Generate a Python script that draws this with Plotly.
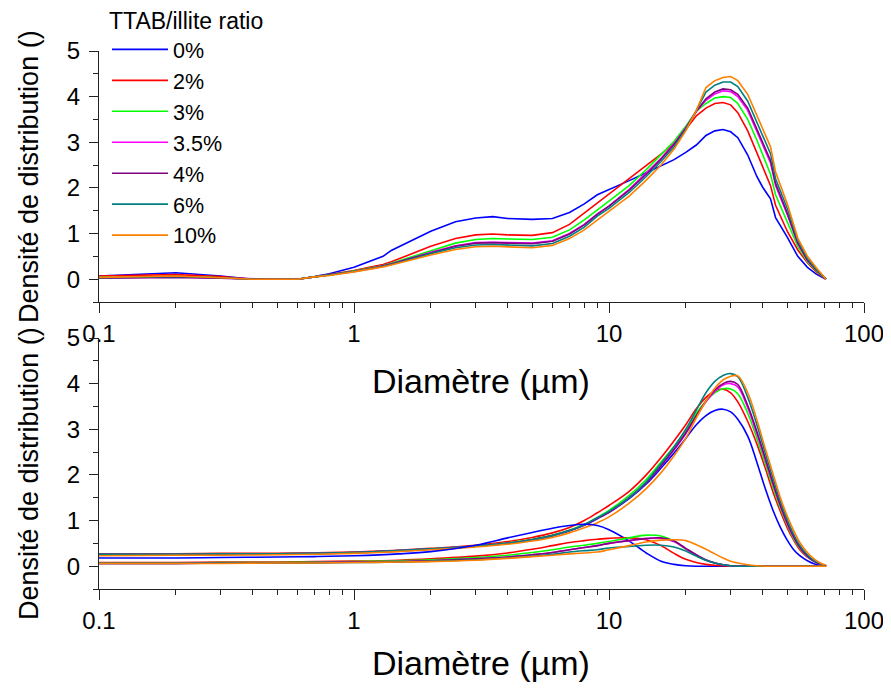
import plotly.graph_objects as go

# ---------------- data ----------------
series_names = ["0%", "2%", "3%", "3.5%", "4%", "6%", "10%"]
series_colors = ["#0000FF", "#FF0000", "#00FF00", "#FF00FF", "#800080", "#008080", "#FF8000"]

top_x = [0.1, 0.15, 0.2, 0.3, 0.4, 0.5, 0.6, 0.7, 0.8, 1.0,
         1.2, 1.3, 1.4, 1.7, 2.0, 2.5, 3.0, 3.5, 4.0, 5.0,
         6, 7, 8, 9, 10, 12, 14, 16, 18, 20,
         22, 24, 26, 28, 30, 32, 35, 38, 40, 43,
         45, 50, 55, 60, 65, 71]

top_0 = [0.07, 0.11, 0.14, 0.07, 0.0, 0.0, 0.0, 0.06, 0.12, 0.26,
         0.42, 0.5, 0.63, 0.86, 1.05, 1.26, 1.34, 1.37, 1.33, 1.31,
         1.33, 1.46, 1.65, 1.85, 1.97, 2.16, 2.33, 2.48, 2.62, 2.78,
         2.94, 3.15, 3.25, 3.28, 3.23, 3.1, 2.72, 2.25, 2.02, 1.76,
         1.35, 0.92, 0.5, 0.26, 0.11, 0.0]
top_2 = [0.07, 0.09, 0.1, 0.06, 0.0, 0.0, 0.0, 0.05, 0.1, 0.19,
         0.28, 0.32, 0.38, 0.56, 0.72, 0.89, 0.97, 0.99, 0.97, 0.96,
         1.02, 1.2, 1.45, 1.66, 1.85, 2.2, 2.5, 2.74, 2.98, 3.28,
         3.58, 3.75, 3.85, 3.87, 3.82, 3.65, 3.25, 2.78, 2.47, 2.05,
         1.62, 1.05, 0.64, 0.36, 0.16, 0.0]
top_3 = [0.04, 0.05, 0.06, 0.03, 0.0, 0.0, 0.0, 0.05, 0.09, 0.18,
         0.26, 0.3, 0.35, 0.5, 0.63, 0.79, 0.87, 0.89, 0.88, 0.87,
         0.92, 1.08, 1.3, 1.52, 1.7, 2.05, 2.4, 2.72, 3.02, 3.35,
         3.68, 3.85, 3.97, 4.0, 3.98, 3.85, 3.5, 3.05, 2.75, 2.3,
         1.85, 1.25, 0.72, 0.38, 0.18, 0.0]
top_35 = [0.03, 0.04, 0.05, 0.02, 0.0, 0.0, 0.0, 0.05, 0.09, 0.17,
          0.25, 0.29, 0.33, 0.47, 0.59, 0.73, 0.8, 0.81, 0.8, 0.79,
          0.84, 1.0, 1.2, 1.43, 1.6, 1.97, 2.33, 2.65, 2.97, 3.32,
          3.68, 3.92, 4.06, 4.13, 4.11, 4.0, 3.7, 3.25, 2.95, 2.55,
          2.05, 1.42, 0.78, 0.41, 0.2, 0.0]
top_4 = [0.02, 0.03, 0.04, 0.02, 0.0, 0.0, 0.0, 0.05, 0.09, 0.17,
         0.25, 0.29, 0.33, 0.47, 0.58, 0.72, 0.79, 0.8, 0.79, 0.78,
         0.83, 0.99, 1.19, 1.42, 1.6, 1.95, 2.3, 2.63, 2.95, 3.3,
         3.68, 3.95, 4.1, 4.17, 4.15, 4.05, 3.75, 3.3, 3.0, 2.6,
         2.1, 1.45, 0.8, 0.42, 0.2, 0.0]
top_6 = [0.03, 0.05, 0.06, 0.03, 0.0, 0.0, 0.0, 0.05, 0.09, 0.17,
         0.24, 0.28, 0.32, 0.45, 0.56, 0.69, 0.75, 0.76, 0.75, 0.73,
         0.78, 0.94, 1.14, 1.38, 1.55, 1.9, 2.25, 2.58, 2.9, 3.28,
         3.7, 4.1, 4.25, 4.32, 4.32, 4.22, 3.9, 3.45, 3.15, 2.75,
         2.2, 1.55, 0.85, 0.45, 0.22, 0.0]
top_10 = [0.04, 0.06, 0.07, 0.03, 0.0, 0.0, 0.0, 0.05, 0.08, 0.16,
          0.23, 0.27, 0.31, 0.43, 0.53, 0.65, 0.71, 0.72, 0.71, 0.69,
          0.74, 0.89, 1.08, 1.3, 1.48, 1.82, 2.17, 2.5, 2.85, 3.25,
          3.7, 4.2, 4.35, 4.42, 4.44, 4.35, 4.05, 3.6, 3.3, 2.9,
          2.35, 1.65, 0.9, 0.5, 0.25, 0.0]

bot_x = [0.1, 0.2, 0.3, 0.5, 0.7, 1, 1.5, 2, 3, 4,
         5, 6, 7, 8, 9, 10, 12, 14, 16, 18,
         20, 22, 24, 26, 28, 30, 32, 35, 38, 41,
         44, 47, 50, 53, 56, 60, 64, 68, 71]

# main (large) fitted components
main_0 = [0.25, 0.25, 0.26, 0.26, 0.27, 0.29, 0.33, 0.37, 0.44, 0.5,
          0.58, 0.67, 0.77, 0.9, 1.04, 1.18, 1.48, 1.8, 2.15, 2.48,
          2.8, 3.1, 3.3, 3.41, 3.44, 3.38, 3.22, 2.85, 2.28, 1.7,
          1.22, 0.85, 0.57, 0.36, 0.23, 0.12, 0.05, 0.02, 0.0]
main_2 = [0.27, 0.27, 0.28, 0.28, 0.29, 0.31, 0.35, 0.39, 0.46, 0.54,
          0.63, 0.73, 0.85, 1.0, 1.17, 1.33, 1.64, 2.0, 2.38, 2.75,
          3.1, 3.45, 3.7, 3.84, 3.88, 3.8, 3.6, 3.17, 2.68, 2.15,
          1.62, 1.2, 0.84, 0.57, 0.36, 0.2, 0.11, 0.04, 0.0]
main_3 = [0.26, 0.26, 0.27, 0.27, 0.28, 0.3, 0.34, 0.38, 0.44, 0.51,
          0.59, 0.68, 0.79, 0.92, 1.07, 1.22, 1.55, 1.9, 2.28, 2.62,
          2.95, 3.35, 3.62, 3.8, 3.89, 3.88, 3.78, 3.35, 2.8, 2.25,
          1.72, 1.27, 0.9, 0.6, 0.39, 0.21, 0.1, 0.04, 0.01]
main_35 = [0.26, 0.26, 0.27, 0.27, 0.28, 0.3, 0.34, 0.38, 0.44, 0.5,
           0.58, 0.67, 0.78, 0.9, 1.05, 1.18, 1.5, 1.83, 2.2, 2.55,
           2.9, 3.28, 3.6, 3.83, 3.97, 4.0, 3.93, 3.47, 2.9, 2.33,
           1.79, 1.32, 0.93, 0.63, 0.41, 0.22, 0.1, 0.04, 0.01]
main_4 = [0.26, 0.26, 0.27, 0.27, 0.28, 0.3, 0.34, 0.38, 0.44, 0.5,
          0.58, 0.67, 0.78, 0.9, 1.05, 1.18, 1.5, 1.83, 2.2, 2.56,
          2.92, 3.3, 3.62, 3.86, 4.0, 4.05, 3.98, 3.52, 2.95, 2.37,
          1.82, 1.34, 0.95, 0.65, 0.42, 0.22, 0.1, 0.04, 0.01]
main_6 = [0.26, 0.26, 0.27, 0.27, 0.28, 0.3, 0.34, 0.38, 0.44, 0.5,
          0.58, 0.67, 0.78, 0.91, 1.06, 1.2, 1.5, 1.85, 2.25, 2.62,
          3.0, 3.42, 3.8, 4.05, 4.18, 4.22, 4.15, 3.7, 3.1, 2.48,
          1.92, 1.42, 1.02, 0.7, 0.46, 0.25, 0.12, 0.05, 0.01]
main_10 = [0.23, 0.24, 0.24, 0.25, 0.26, 0.28, 0.32, 0.36, 0.42, 0.48,
           0.55, 0.63, 0.73, 0.84, 0.95, 1.08, 1.38, 1.7, 2.05, 2.42,
           2.8, 3.25, 3.62, 3.9, 4.08, 4.16, 4.17, 3.8, 3.21, 2.58,
           2.02, 1.5, 1.1, 0.78, 0.52, 0.3, 0.15, 0.06, 0.02]

# secondary (small) fitted components
sub_0 = [0.18, 0.18, 0.19, 0.2, 0.21, 0.23, 0.27, 0.32, 0.46, 0.62,
         0.74, 0.83, 0.89, 0.92, 0.89, 0.8, 0.55, 0.29, 0.11, 0.04,
         0.01, 0, 0, 0, 0, 0, 0, 0, 0, 0,
         0, 0, 0, 0, 0, 0, 0, 0, 0]
sub_2 = [0.08, 0.08, 0.09, 0.09, 0.1, 0.11, 0.13, 0.16, 0.22, 0.29,
         0.37, 0.45, 0.52, 0.56, 0.59, 0.61, 0.62, 0.58, 0.45, 0.28,
         0.15, 0.08, 0.04, 0.02, 0.01, 0, 0, 0, 0, 0,
         0, 0, 0, 0, 0, 0, 0, 0, 0]
sub_3 = [0.07, 0.07, 0.08, 0.08, 0.09, 0.1, 0.12, 0.14, 0.19, 0.24,
         0.3, 0.36, 0.42, 0.46, 0.5, 0.54, 0.62, 0.68, 0.66, 0.55,
         0.37, 0.23, 0.13, 0.07, 0.03, 0.01, 0, 0, 0, 0,
         0, 0, 0, 0, 0, 0, 0, 0, 0]
sub_35 = [0.06, 0.06, 0.07, 0.07, 0.08, 0.09, 0.1, 0.12, 0.16, 0.2,
          0.25, 0.3, 0.36, 0.41, 0.45, 0.5, 0.56, 0.6, 0.61, 0.54,
          0.38, 0.24, 0.13, 0.07, 0.03, 0.01, 0, 0, 0, 0,
          0, 0, 0, 0, 0, 0, 0, 0, 0]
sub_4 = [0.06, 0.06, 0.07, 0.07, 0.08, 0.09, 0.1, 0.12, 0.16, 0.2,
         0.25, 0.3, 0.36, 0.41, 0.45, 0.5, 0.56, 0.61, 0.62, 0.55,
         0.39, 0.25, 0.14, 0.07, 0.03, 0.01, 0, 0, 0, 0,
         0, 0, 0, 0, 0, 0, 0, 0, 0]
sub_6 = [0.06, 0.06, 0.07, 0.07, 0.07, 0.08, 0.09, 0.11, 0.14, 0.18,
         0.22, 0.26, 0.31, 0.34, 0.36, 0.4, 0.43, 0.46, 0.46, 0.42,
         0.33, 0.22, 0.13, 0.07, 0.03, 0.01, 0, 0, 0, 0,
         0, 0, 0, 0, 0, 0, 0, 0, 0]
sub_10 = [0.06, 0.06, 0.06, 0.07, 0.07, 0.08, 0.09, 0.1, 0.13, 0.17,
          0.21, 0.24, 0.27, 0.29, 0.31, 0.36, 0.45, 0.53, 0.57, 0.58,
          0.56, 0.47, 0.37, 0.27, 0.18, 0.11, 0.07, 0.03, 0.01, 0,
          0, 0, 0, 0, 0, 0, 0, 0, 0]

legend_title = "TTAB/illite ratio"
x_title = "Diamètre (µm)"
y_title = "Densité de distribution ()"
x_tickvals = [0.1, 1, 10, 100]
x_ticktext = ["0.1", "1", "10", "100"]

top_series = [top_0, top_2, top_3, top_35, top_4, top_6, top_10]
main_series = [main_0, main_2, main_3, main_35, main_4, main_6, main_10]
sub_series = [sub_0, sub_2, sub_3, sub_35, sub_4, sub_6, sub_10]

# ---------------- figure ----------------
FONT = "Liberation Sans, Arial, sans-serif"
OFF = 8                      # default page margin of the HTML body
W, H = 891 - OFF, 691 - OFF
ML, MR, MT, MB = 99 - OFF, 27, 51 - OFF, 102
PW = W - ML - MR
PH = H - MT - MB


def page_to_paper(px, py):
    """convert window pixel coords to paper fractions"""
    fx, fy = px - OFF, py - OFF
    return (fx - ML) / PW, (H - MB - fy) / PH


fig = go.Figure()

for name, color, ys in zip(series_names, series_colors, top_series):
    fig.add_trace(go.Scatter(x=top_x, y=ys, mode="lines", name=name,
                             line=dict(color=color, width=1.6),
                             xaxis="x", yaxis="y", legendgroup=name))

for name, color, ys in zip(series_names, series_colors, main_series):
    fig.add_trace(go.Scatter(x=bot_x, y=ys, mode="lines", name=name,
                             line=dict(color=color, width=1.6, shape="spline"),
                             xaxis="x2", yaxis="y2", showlegend=False, legendgroup=name))
for name, color, ys in zip(series_names, series_colors, sub_series):
    fig.add_trace(go.Scatter(x=bot_x, y=ys, mode="lines", name=name,
                             line=dict(color=color, width=1.6, shape="spline"),
                             xaxis="x2", yaxis="y2", showlegend=False, legendgroup=name))

minor_x = [m * 10 ** e for e in (-1, 0, 1) for m in range(2, 10)]

xaxis_common = dict(
    type="log", range=[-1, 2], tickmode="array", tickvals=x_tickvals, ticktext=x_ticktext,
    showline=True, linecolor="#222", linewidth=1, ticks="outside", ticklen=10,
    tickcolor="#222", tickwidth=1, showgrid=False, zeroline=False,
    tickfont=dict(family=FONT, size=24, color="black"),
    minor=dict(tickmode="array", tickvals=minor_x, ticks="outside", ticklen=5,
               tickcolor="#222", tickwidth=1, showgrid=False),
    ticklabelstandoff=0,
)
yaxis_common = dict(
    range=[-0.5, 5], tickmode="linear", tick0=0, dtick=1,
    showline=True, linecolor="#222", linewidth=1, ticks="outside", ticklen=9,
    tickcolor="#222", tickwidth=1, showgrid=False, zeroline=False,
    tickfont=dict(family=FONT, size=24, color="black"),
    minor=dict(dtick=0.5, tick0=0, ticks="outside", ticklen=5, tickcolor="#222",
               tickwidth=1, showgrid=False),
    ticklabelstandoff=4,
)

top_dom = [page_to_paper(0, 302)[1], 1.0]
bot_dom = [0.0, page_to_paper(0, 338)[1]]

lx, ly = page_to_paper(107, -1)
fig.update_layout(
    width=W, height=H,
    margin=dict(l=ML, r=MR, t=MT, b=MB, autoexpand=False),
    paper_bgcolor="white", plot_bgcolor="white",
    font=dict(family=FONT, color="black"),
    xaxis=dict(xaxis_common, anchor="y", domain=[0, 1]),
    yaxis=dict(yaxis_common, anchor="x", domain=top_dom),
    xaxis2=dict(xaxis_common, anchor="y2", domain=[0, 1]),
    yaxis2=dict(yaxis_common, anchor="x2", domain=bot_dom),
    showlegend=True,
    legend=dict(
        x=lx, y=ly, xanchor="left", yanchor="top",
        bgcolor="rgba(0,0,0,0)", borderwidth=0,
        font=dict(family=FONT, size=21.5, color="black"),
        title=dict(text=legend_title, font=dict(family=FONT, size=23, color="black")),
        itemwidth=56, tracegroupgap=0, traceorder="normal",
    ),
)

# axis titles as annotations placed where the reference draws them
ann = []
for cy in (381, 663):
    xp, yp = page_to_paper(481, cy)
    ann.append(dict(text=x_title, x=xp, y=yp, xref="paper", yref="paper",
                    showarrow=False, xanchor="center", yanchor="middle",
                    font=dict(family=FONT, size=34, color="black")))
for cy in (177, 474):
    xp, yp = page_to_paper(29, cy)
    ann.append(dict(text=y_title, x=xp, y=yp, xref="paper", yref="paper",
                    showarrow=False, xanchor="center", yanchor="middle", textangle=-90,
                    font=dict(family=FONT, size=27, color="black")))
fig.update_layout(annotations=ann)

fig.write_html("out.html")
